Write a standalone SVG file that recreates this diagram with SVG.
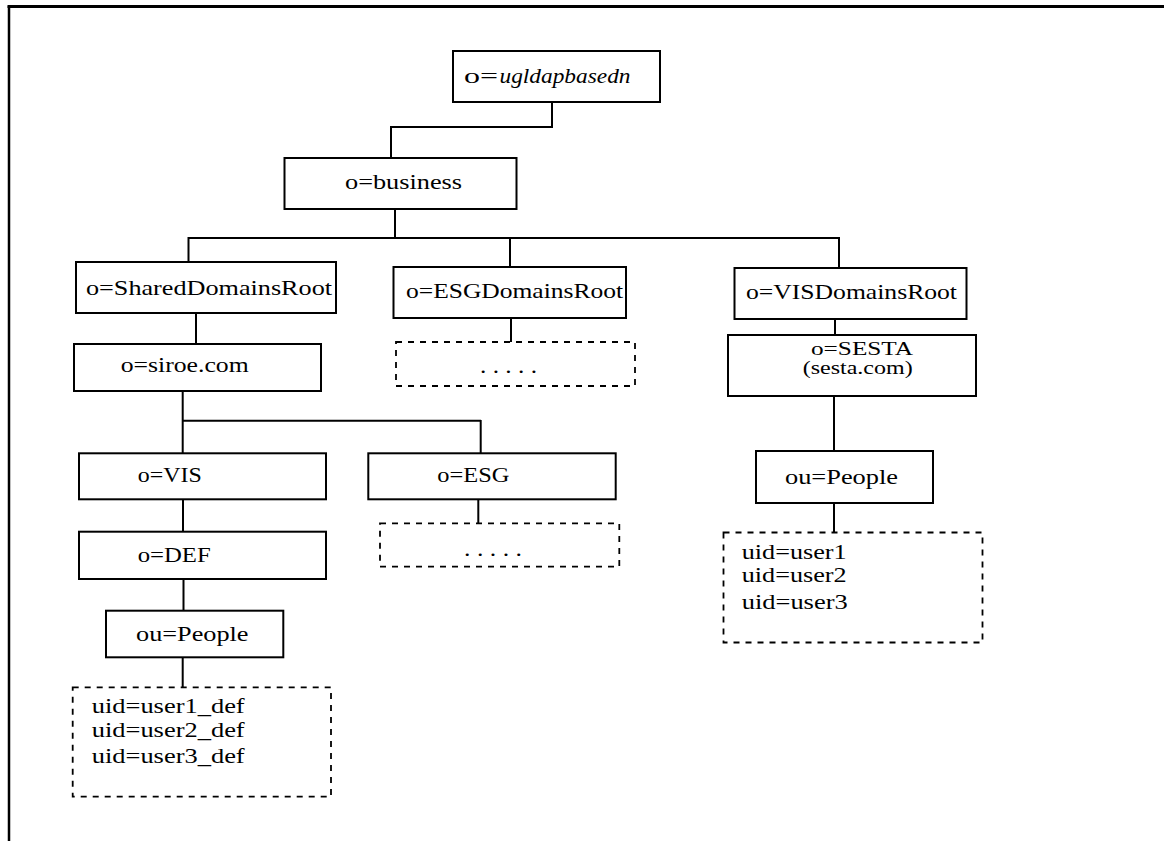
<svg xmlns="http://www.w3.org/2000/svg" width="1164" height="841" viewBox="0 0 1164 841">
  <style>
    .box { fill: #ffffff; stroke: #000000; stroke-width: 2; }
    .dbox { fill: none; stroke: #000000; stroke-width: 1.8; stroke-dasharray: 6 6; }
    .wire { fill: none; stroke: #000000; stroke-width: 2; }
    .frame { fill: none; stroke: #000000; }
    text { font-family: "Liberation Serif", "Times New Roman", serif; font-size: 21px; fill: #000000; }
    .it { font-style: italic; }
    .sm { font-size: 19px; }
  </style>

  <rect x="0" y="0" width="1164" height="841" fill="#ffffff"/>

  <!-- page frame -->
  <g id="frame">
    <line class="frame" x1="7.5" y1="6.5" x2="1164" y2="6.5" stroke-width="3"/>
    <line class="frame" x1="9" y1="6" x2="9" y2="841" stroke-width="2.5"/>
  </g>

  <!-- connectors -->
  <g id="connectors">
    <polyline class="wire" points="552,102 552,127 391,127 391,158"/>
    <line class="wire" x1="395" y1="209" x2="395" y2="238"/>
    <line class="wire" x1="188.5" y1="238" x2="839" y2="238"/>
    <line class="wire" x1="188.5" y1="237" x2="188.5" y2="262"/>
    <line class="wire" x1="510" y1="238" x2="510" y2="267"/>
    <line class="wire" x1="839" y1="237" x2="839" y2="268"/>
    <line class="wire" x1="511" y1="318" x2="511" y2="342"/>
    <line class="wire" x1="835" y1="319" x2="835" y2="335"/>
    <line class="wire" x1="834" y1="396" x2="834" y2="451"/>
    <line class="wire" x1="834" y1="503" x2="834" y2="532"/>
    <line class="wire" x1="196" y1="313" x2="196" y2="344"/>
    <line class="wire" x1="182.7" y1="391" x2="182.7" y2="453"/>
    <line class="wire" x1="182" y1="420.7" x2="481" y2="420.7"/>
    <line class="wire" x1="480.7" y1="420" x2="480.7" y2="453"/>
    <line class="wire" x1="183" y1="499" x2="183" y2="532"/>
    <line class="wire" x1="478.3" y1="499" x2="478.3" y2="523"/>
    <line class="wire" x1="183.5" y1="579" x2="183.5" y2="611"/>
    <line class="wire" x1="182.7" y1="657" x2="182.7" y2="687"/>
  </g>

  <g id="n-root">
    <rect class="box" x="453" y="51" width="207" height="51"/>
    <text x="464" y="83" textLength="34" lengthAdjust="spacingAndGlyphs">o=</text>
    <text class="it" x="499.5" y="83" textLength="131" lengthAdjust="spacingAndGlyphs">ugldapbasedn</text>
  </g>

  <g id="n-business">
    <rect class="box" x="284.5" y="158" width="232" height="51"/>
    <text x="345" y="188.5" textLength="117" lengthAdjust="spacingAndGlyphs">o=business</text>
  </g>

  <g id="n-shared">
    <rect class="box" x="76" y="262" width="260" height="51"/>
    <text x="86" y="295" textLength="246" lengthAdjust="spacingAndGlyphs">o=SharedDomainsRoot</text>
  </g>

  <g id="n-esgroot">
    <rect class="box" x="393.5" y="267" width="232.5" height="51"/>
    <text x="406" y="298" textLength="217" lengthAdjust="spacingAndGlyphs">o=ESGDomainsRoot</text>
  </g>

  <g id="n-esgroot-more">
    <rect class="dbox" x="396" y="342" width="239" height="44"/>
    <text x="480" y="373" textLength="57" lengthAdjust="spacingAndGlyphs">. . . . .</text>
  </g>

  <g id="n-visroot">
    <rect class="box" x="734.5" y="268" width="232" height="51"/>
    <text x="746" y="298.5" textLength="211" lengthAdjust="spacingAndGlyphs">o=VISDomainsRoot</text>
  </g>

  <g id="n-sesta">
    <rect class="box" x="728" y="335" width="248" height="61"/>
    <text class="sm" x="811" y="355" textLength="102" lengthAdjust="spacingAndGlyphs">o=SESTA</text>
    <text class="sm" x="802.7" y="374" textLength="110" lengthAdjust="spacingAndGlyphs">(sesta.com)</text>
  </g>

  <g id="n-sesta-people">
    <rect class="box" x="756" y="451" width="177" height="52"/>
    <text x="785" y="484" textLength="113" lengthAdjust="spacingAndGlyphs">ou=People</text>
  </g>

  <g id="n-sesta-users">
    <rect class="dbox" x="723.5" y="532.5" width="259" height="110"/>
    <text x="741.7" y="558.5" textLength="105" lengthAdjust="spacingAndGlyphs">uid=user1</text>
    <text x="741.7" y="582" textLength="105" lengthAdjust="spacingAndGlyphs">uid=user2</text>
    <text x="741.7" y="608.5" textLength="106" lengthAdjust="spacingAndGlyphs">uid=user3</text>
  </g>

  <g id="n-siroe">
    <rect class="box" x="74" y="344" width="247" height="47"/>
    <text x="120.7" y="371.7" textLength="128" lengthAdjust="spacingAndGlyphs">o=siroe.com</text>
  </g>

  <g id="n-vis">
    <rect class="box" x="79" y="453.3" width="247" height="46"/>
    <text x="137.7" y="482.3" textLength="64" lengthAdjust="spacingAndGlyphs">o=VIS</text>
  </g>

  <g id="n-esg">
    <rect class="box" x="368.3" y="453.3" width="247.4" height="46"/>
    <text x="437.3" y="481.7" textLength="72" lengthAdjust="spacingAndGlyphs">o=ESG</text>
  </g>

  <g id="n-esg-more">
    <rect class="dbox" x="380" y="523.3" width="239.3" height="43.4"/>
    <text x="464" y="555.5" textLength="58" lengthAdjust="spacingAndGlyphs">. . . . .</text>
  </g>

  <g id="n-def">
    <rect class="box" x="79" y="531.7" width="247" height="47.3"/>
    <text x="137.7" y="562.3" textLength="73" lengthAdjust="spacingAndGlyphs">o=DEF</text>
  </g>

  <g id="n-def-people">
    <rect class="box" x="106" y="610.7" width="177.3" height="46.6"/>
    <text x="136" y="641" textLength="112.5" lengthAdjust="spacingAndGlyphs">ou=People</text>
  </g>

  <g id="n-def-users">
    <rect class="dbox" x="72.7" y="687.3" width="258.3" height="109.4"/>
    <text x="91.7" y="713.3" textLength="153" lengthAdjust="spacingAndGlyphs">uid=user1_def</text>
    <text x="91.7" y="736.7" textLength="153" lengthAdjust="spacingAndGlyphs">uid=user2_def</text>
    <text x="91.7" y="762.7" textLength="153" lengthAdjust="spacingAndGlyphs">uid=user3_def</text>
  </g>
</svg>
